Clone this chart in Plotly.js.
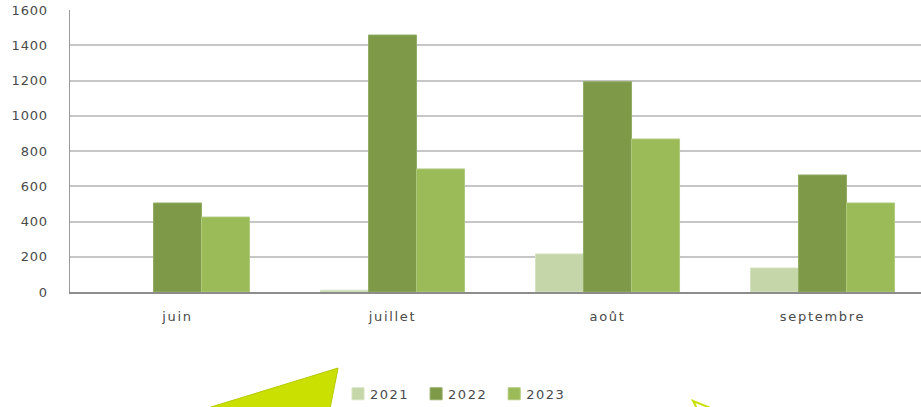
<!DOCTYPE html>
<html>
<head>
<meta charset="utf-8">
<script src="https://cdn.plot.ly/plotly-3.0.1.min.js"></script>
<style>
html,body{margin:0;padding:0;background:#fff;}
#chart{width:921px;height:407px;}
#chart .xtick text{letter-spacing:1.7px;}
#chart .ytick text{letter-spacing:0.8px;}
#chart .legendtext{letter-spacing:1.5px;}
</style>
</head>
<body>
<div id="chart"></div>
<script>
const months = ["juin", "juillet", "août", "septembre"];
const seriesNames = ["2021", "2022", "2023"];
const values2021 = [null, 10, 216, 136];
const values2022 = [505, 1458, 1193, 664];
const values2023 = [425, 698, 868, 505];
const yTicks = [0, 200, 400, 600, 800, 1000, 1200, 1400, 1600];
const colors = ["#c5d6a9", "#7e9a48", "#9bbb59"];
const edge = ["#d6e3c0", "#94ad66", "#afc97c"];

const allValues = [values2021, values2022, values2023];
const traces = allValues.map((v, i) => ({
  type: "bar",
  name: seriesNames[i],
  x: months,
  y: v,
  marker: {color: colors[i], line: {color: edge[i], width: 1}},
  hoverinfo: "x+y+name"
}));

const textColor = "#4a4a4a";
const layout = {
  width: 921, height: 407,
  margin: {l: 70, r: 0, t: 10, b: 115, autoexpand: false},
  paper_bgcolor: "#ffffff", plot_bgcolor: "#ffffff",
  barmode: "group", bargap: 0.33, bargroupgap: 0,
  font: {family: "DejaVu Sans, sans-serif", size: 13, color: textColor},
  xaxis: {
    type: "category", range: [-0.5, 3.458], automargin: false,
    showline: true, linecolor: "#8c8c8c", linewidth: 1.5,
    showgrid: false, ticks: "", zeroline: false,
    ticklabelstandoff: 12,
    tickfont: {size: 13, color: textColor}
  },
  yaxis: {
    range: [0, 1600], tickvals: yTicks, ticktext: yTicks.map(String), automargin: false,
    showline: true, linecolor: "#9a9a9a", linewidth: 1.5,
    showgrid: true, gridcolor: "#c6c6c6", gridwidth: 2,
    zeroline: false, ticks: "", ticklabelstandoff: 18,
    tickfont: {size: 13, color: textColor}
  },
  showlegend: true,
  legend: {
    orientation: "h", x: 0.453, y: -0.361, xanchor: "center", yanchor: "middle",
    font: {size: 13, color: textColor}, traceorder: "normal",
    itemwidth: 30, tracegroupgap: 0, bgcolor: "rgba(0,0,0,0)"
  },
  shapes: [
    {type: "path", xref: "paper", yref: "paper",
     path: "M 0.198,-0.52 L 0.1650,-0.4085 Q 0.25,-0.33 0.3150,-0.2695 L 0.2985,-0.52 Z",
     fillcolor: "#c9e000", line: {color: "#b5c900", width: 1}},
    {type: "path", xref: "paper", yref: "paper",
     path: "M 0.7321,-0.3865 L 0.768,-0.43 L 0.745,-0.46 Z",
     fillcolor: "#ffffff", line: {color: "#c9e000", width: 2}}
  ]
};

Plotly.newPlot("chart", traces, layout, {staticPlot: true, displayModeBar: false}).then(gd => {
  gd.querySelectorAll(".legendtext").forEach(t => {
    const x = parseFloat(t.getAttribute("x"));
    t.setAttribute("x", x - 8);
  });
});
</script>
</body>
</html>
